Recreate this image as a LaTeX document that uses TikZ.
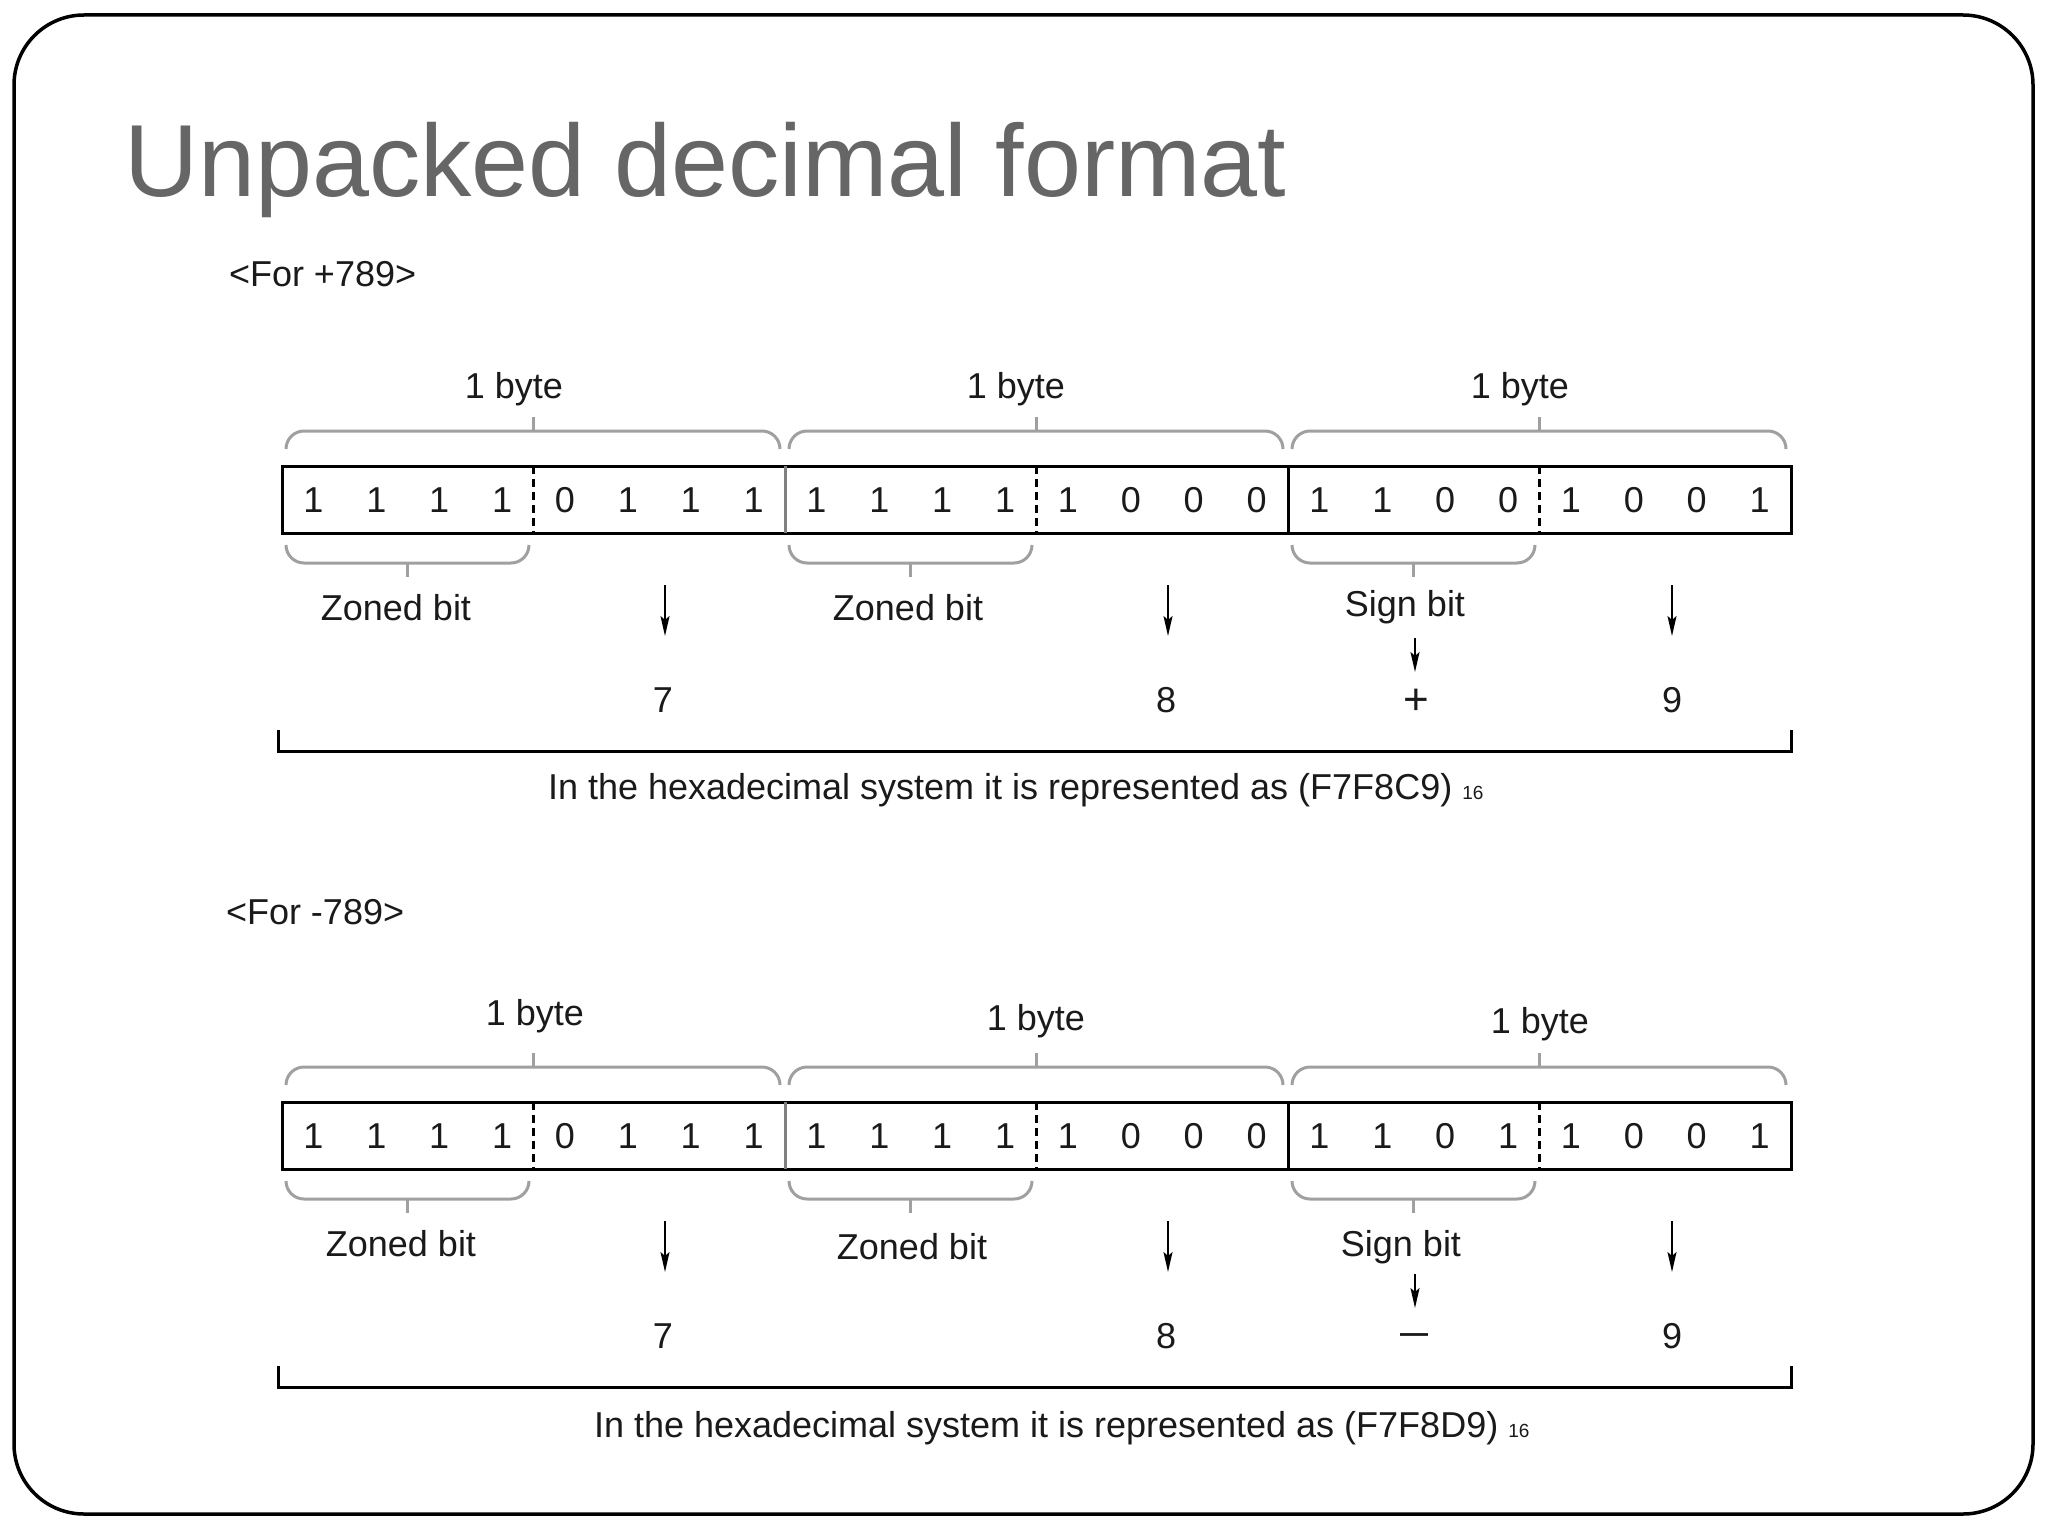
\documentclass[tikz,border=0pt]{standalone}
\usepackage{fontspec}
\setmainfont{Liberation Sans}
\usetikzlibrary{arrows.meta}
\definecolor{titlegray}{HTML}{666666}
\definecolor{bracegray}{HTML}{A0A0A0}
\definecolor{inkblack}{HTML}{1A1A1A}
\tikzset{
  lbl/.style={inner sep=0pt, outer sep=0pt, font=\fontsize{36}{43}\selectfont, text=inkblack},
  bracepath/.style={draw=bracegray, line width=3pt, rounded corners=18pt},
  tickpath/.style={draw=bracegray, line width=3pt},
  boxline/.style={draw=black, line width=3pt},
  bytediv/.style={draw=black, line width=3pt},
  halfline/.style={draw=black, line width=2.5pt, dash pattern=on 8pt off 5pt},
  digitarrow/.style={draw=black, line width=2pt, -{Stealth[length=20pt,width=9pt,inset=4pt]}},
  bracketline/.style={draw=black, line width=3pt},
  framepath/.style={draw=black, line width=3.5pt, rounded corners=70pt},
}
% #1 suffix, #2 list of 24 bits
\newcommand{\bitrow}[2]{%
  \node[boxline, inner sep=0pt, outer sep=0pt, anchor=north west,
        minimum width=1509pt, minimum height=67pt] (box#1) at (282,466) {};
  % byte dividers
  \draw[bytediv, draw=gray] (785,466) -- (785,533);
  \draw[bytediv] (1288,466) -- (1288,533);
  % half-byte dashed dividers
  \foreach \hx in {533.5,1036.5,1539.5}{\draw[halfline] (\hx,466) -- (\hx,533);}
  % bits
  \foreach \b [count=\i from 0] in {#2}{%
    \node[lbl] (bit#1-\i) at ({282+62.875*(\i+0.5)},500) {\b};}
  % braces
  \foreach \bx [count=\k] in {282,785,1288}{%
    \draw[bracepath] ({\bx+4},449) -- ({\bx+4},431) -- ({\bx+498},431) -- ({\bx+498},449);
    \draw[tickpath] ({\bx+251.5},431) -- ({\bx+251.5},417);
    \draw[bracepath] ({\bx+4},545) -- ({\bx+4},563) -- ({\bx+247},563) -- ({\bx+247},545);
    \draw[tickpath] ({\bx+125.5},563) -- ({\bx+125.5},577);
  }
  % digit arrows
  \coordinate (a#1-1s) at (665,585); \coordinate (a#1-1e) at (665,636);
  \coordinate (a#1-2s) at (1168,585); \coordinate (a#1-2e) at (1168,636);
  \coordinate (a#1-3s) at (1672,585); \coordinate (a#1-3e) at (1672,636);
  \coordinate (a#1-ss) at (1415,638); \coordinate (a#1-se) at (1415,672);
  \draw[digitarrow] (a#1-1s) -- (a#1-1e);
  \draw[digitarrow] (a#1-2s) -- (a#1-2e);
  \draw[digitarrow] (a#1-3s) -- (a#1-3e);
  \draw[digitarrow] (a#1-ss) -- (a#1-se);
  % bottom bracket
  \coordinate (brL#1) at (278,730); \coordinate (brR#1) at (1791,730);
  \draw[bracketline] (brL#1) -- ++(0,21) -| (brR#1);
}
\begin{document}
\begin{tikzpicture}[x=1pt, y=-1pt]
  \useasboundingbox (0,0) rectangle (2048,1536);
  \fill[white] (0,0) rectangle (2048,1536);
  \draw[framepath] (14,15) rectangle (2033,1514);

  \node[anchor=base west, inner sep=0pt, font=\fontsize{102.5}{110}\selectfont, text=titlegray]
    (title) at (124,196) {Unpacked decimal format};

  % ---------- +789 ----------
  \node[lbl, anchor=base west] (forplus) at (229,286) {<For +789>};
  \bitrow{p}{1,1,1,1,0,1,1,1,1,1,1,1,1,0,0,0,1,1,0,0,1,0,0,1}
  \node[lbl, anchor=base] (bytep1) at (514,398) {1 byte};
  \node[lbl, anchor=base] (bytep2) at (1016,398) {1 byte};
  \node[lbl, anchor=base] (bytep3) at (1520,398) {1 byte};
  \node[lbl, anchor=base] (zonedp1) at (396,620) {Zoned bit};
  \node[lbl, anchor=base] (zonedp2) at (908,620) {Zoned bit};
  \node[lbl, anchor=base] (signp) at (1405,616) {Sign bit};
  \node[lbl] (valp1) at (663,700) {7};
  \node[lbl] (valp2) at (1166,700) {8};
  \node[lbl, font=\fontsize{44}{44}\selectfont] (valps) at (1416,702) {+};
  \node[lbl] (valp3) at (1672,700) {9};
  \node[lbl, anchor=base west] (hexp) at (548,799)
    {In the hexadecimal system it is represented as (F7F8C9) {\fontsize{19}{20}\selectfont 16}};

  % ---------- -789 ----------
  \node[lbl, anchor=base west] (forminus) at (226,924) {<For -789>};
  \begin{scope}[yshift=-636pt]
    \bitrow{m}{1,1,1,1,0,1,1,1,1,1,1,1,1,0,0,0,1,1,0,1,1,0,0,1}
  \end{scope}
  \node[lbl, anchor=base] (bytem1) at (535,1025) {1 byte};
  \node[lbl, anchor=base] (bytem2) at (1036,1030) {1 byte};
  \node[lbl, anchor=base] (bytem3) at (1540,1033) {1 byte};
  \node[lbl, anchor=base] (zonedm1) at (401,1256) {Zoned bit};
  \node[lbl, anchor=base] (zonedm2) at (912,1259) {Zoned bit};
  \node[lbl, anchor=base] (signm) at (1401,1256) {Sign bit};
  \node[lbl] (valm1) at (663,1336) {7};
  \node[lbl] (valm2) at (1166,1336) {8};
  \node[lbl, font=\bfseries\fontsize{28}{28}\selectfont] (valms) at (1414,1338) {—};
  \node[lbl] (valm3) at (1672,1336) {9};
  \node[lbl, anchor=base west] (hexm) at (594,1437)
    {In the hexadecimal system it is represented as (F7F8D9) {\fontsize{19}{20}\selectfont 16}};
\end{tikzpicture}
\end{document}
